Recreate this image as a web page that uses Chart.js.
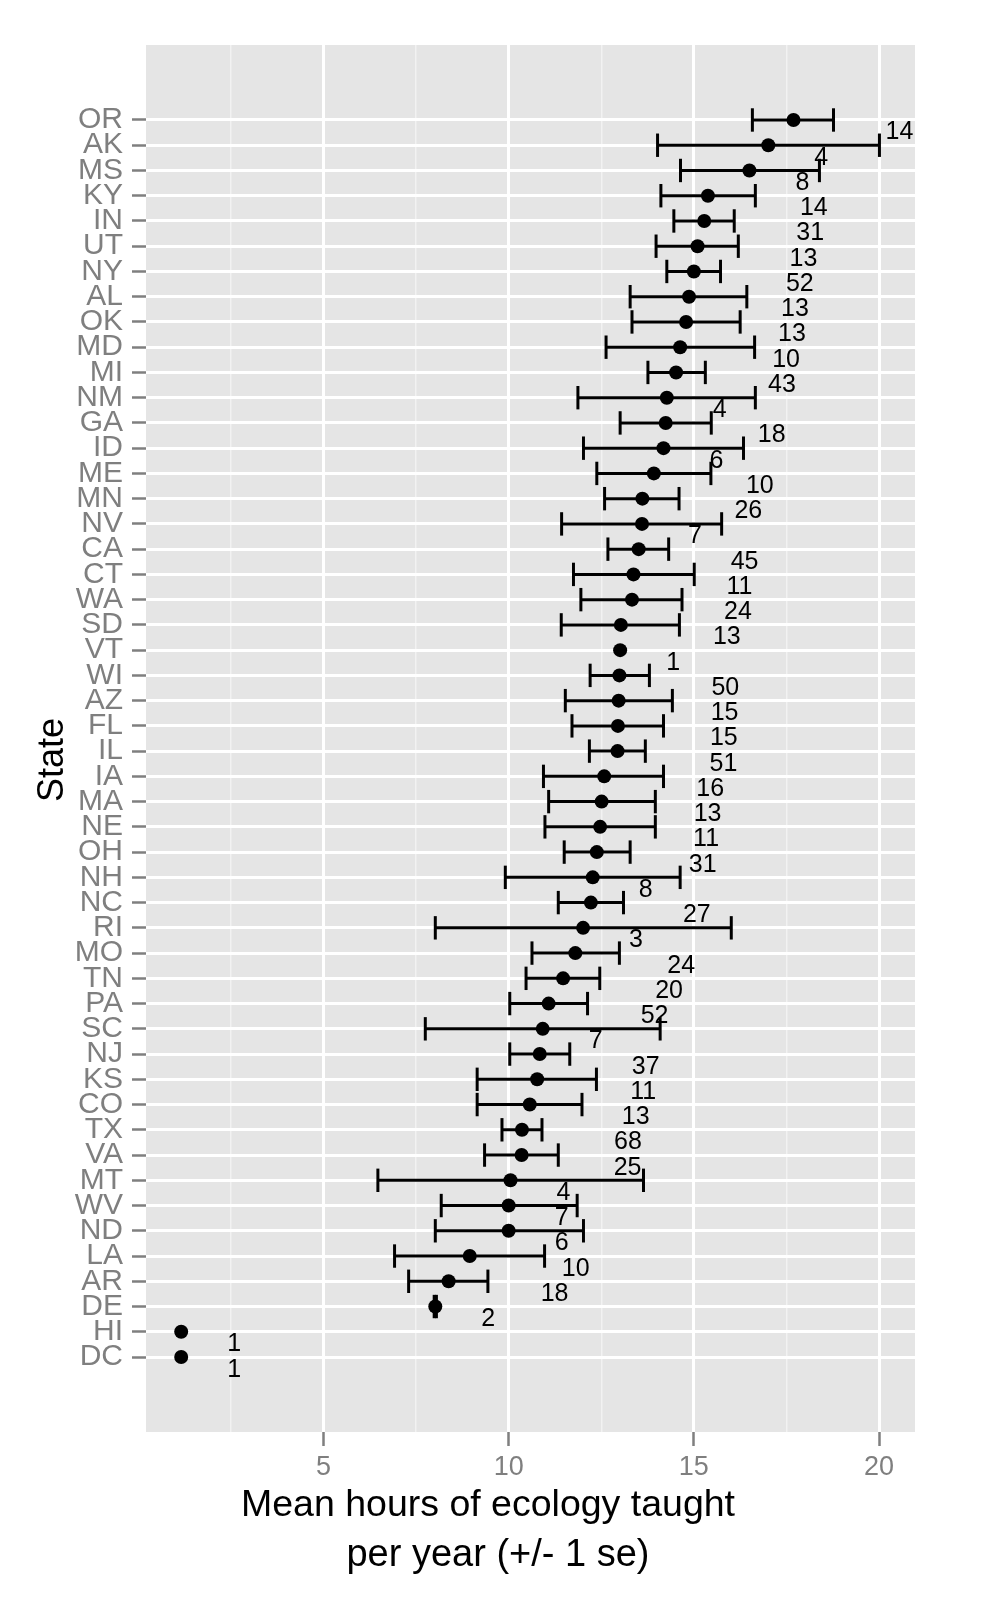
<!DOCTYPE html>
<html><head><meta charset="utf-8">
<script src="https://cdn.jsdelivr.net/npm/chart.js@4.4.0/dist/chart.umd.min.js"></script>
<style>html,body{margin:0;padding:0;background:#fff;}canvas{display:block;}</style>
</head><body>
<canvas id="c" width="983" height="1600"></canvas>
<script>
const states = ['OR','AK','MS','KY','IN','UT','NY','AL','OK','MD','MI','NM','GA','ID','ME','MN','NV','CA','CT','WA','SD','VT','WI','AZ','FL','IL','IA','MA','NE','OH','NH','NC','RI','MO','TN','PA','SC','NJ','KS','CO','TX','VA','MT','WV','ND','LA','AR','DE','HI','DC'];
const means = [17.69,17.01,16.50,15.38,15.28,15.10,15.00,14.87,14.79,14.63,14.52,14.27,14.24,14.18,13.92,13.61,13.60,13.51,13.37,13.33,13.03,13.01,12.99,12.97,12.95,12.94,12.58,12.51,12.47,12.38,12.27,12.22,12.01,11.80,11.47,11.08,10.92,10.84,10.77,10.57,10.36,10.35,10.05,10.00,10.00,8.95,8.38,8.02,1.16,1.16];
const lowerSE = [16.58,14.02,14.64,14.11,14.46,13.98,14.27,13.28,13.33,12.63,13.76,11.87,13.01,12.02,12.38,12.59,11.43,12.68,11.75,11.95,11.42,null,12.20,11.53,11.71,12.18,10.94,11.08,10.98,11.50,9.91,11.34,8.02,10.63,10.47,10.03,7.75,10.03,9.15,9.15,9.82,9.35,6.47,8.18,8.02,6.92,7.30,7.99,null,null];
const upperSE = [18.77,20.01,18.39,16.66,16.09,16.20,15.72,16.43,16.25,16.64,15.31,16.66,15.47,16.34,15.46,14.60,15.75,14.32,15.01,14.68,14.61,null,13.80,14.42,14.18,13.69,14.18,13.96,13.96,13.28,14.63,13.10,16.01,12.99,12.46,12.13,14.09,11.65,12.37,11.98,10.90,11.34,13.64,11.85,12.02,10.97,9.44,8.05,null,null];
const counts = [14,4,8,14,31,13,52,13,13,10,43,4,18,6,10,26,7,45,11,24,13,1,50,15,15,51,16,13,11,31,8,27,3,24,20,52,7,37,11,13,68,25,4,7,6,10,18,2,1,1];
const xMajorTicks = [5,10,15,20];
const xMinorTicks = [2.5,7.5,12.5,17.5];
const xTitleLines = ['Mean hours of ecology taught','per year (+/- 1 se)'];
const yTitle = 'State';

const FONT = "'Liberation Sans', Arial, Helvetica, sans-serif";
const LABEL_STEP = 1.43;   // label offset per digit (data units)
const LABEL_DY = 0.5;      // label offset below row (rows)

const barData = [];
const capData = [];
states.forEach((s, i) => {
  if (lowerSE[i] != null && upperSE[i] != null) {
    barData.push({x: lowerSE[i], y: i}, {x: upperSE[i], y: i}, {x: null, y: null});
    capData.push({x: lowerSE[i], y: i}, {x: upperSE[i], y: i});
  }
});
const pointData = states.map((s, i) => ({x: means[i], y: i}));
const labelData = states.map((s, i) => ({x: means[i] + LABEL_STEP * String(counts[i]).length, y: i + LABEL_DY}));

const panelBg = {
  id: 'panelBg',
  beforeDraw(chart) {
    const {ctx, chartArea: a} = chart;
    ctx.save();
    ctx.fillStyle = '#E5E5E5';
    ctx.fillRect(a.left, a.top, a.right - a.left, a.bottom - a.top);
    ctx.restore();
  }
};
const countLabels = {
  id: 'countLabels',
  afterDatasetsDraw(chart) {
    const meta = chart.getDatasetMeta(3);
    const ctx = chart.ctx;
    ctx.save();
    ctx.font = '25px ' + FONT;
    ctx.fillStyle = '#000';
    ctx.textAlign = 'center';
    ctx.textBaseline = 'middle';
    meta.data.forEach((el, i) => ctx.fillText(String(counts[i]), el.x, el.y));
    ctx.restore();
  }
};
const titles = {
  id: 'titles',
  afterDraw(chart) {
    const ctx = chart.ctx;
    ctx.save();
    ctx.fillStyle = '#000';
    ctx.textAlign = 'center';
    ctx.textBaseline = 'alphabetic';
    ctx.font = '37.5px ' + FONT;
    ctx.fillText(xTitleLines[0], 488, 1516);
    ctx.font = '38px ' + FONT;
    ctx.fillText(xTitleLines[1], 498, 1566);
    ctx.font = '36px ' + FONT;
    ctx.translate(63, 760);
    ctx.rotate(-Math.PI / 2);
    ctx.fillText(yTitle, 0, 0);
    ctx.restore();
  }
};

new Chart(document.getElementById('c'), {
  data: {
    datasets: [
      {type: 'line', data: barData, borderColor: '#000', borderWidth: 3, pointRadius: 0, spanGaps: false, fill: false, order: 4},
      {type: 'scatter', data: capData, pointStyle: 'line', rotation: 90, pointRadius: 11.7, borderColor: '#000', borderWidth: 3, order: 3},
      {type: 'scatter', data: pointData, pointRadius: 7, backgroundColor: '#000', borderWidth: 0, order: 2},
      {type: 'scatter', data: labelData, pointRadius: 0, borderWidth: 0, order: 1}
    ]
  },
  options: {
    responsive: false,
    animation: false,
    devicePixelRatio: 1,
    layout: {padding: {top: 45, right: 68, left: 0, bottom: 0}},
    plugins: {legend: {display: false}, tooltip: {enabled: false}},
    scales: {
      x: {
        type: 'linear', position: 'bottom', min: 0.21, max: 20.97,
        afterBuildTicks(scale) {
          scale.ticks = xMinorTicks.concat(xMajorTicks).sort((a, b) => a - b).map(v => ({value: v}));
        },
        afterFit(scale) { scale.height = 168; },
        border: {display: false},
        grid: {
          color: c => (xMajorTicks.includes(c.tick.value) ? '#FFFFFF' : '#F2F2F2'),
          lineWidth: c => (xMajorTicks.includes(c.tick.value) ? 3 : 1.5),
          tickColor: c => (xMajorTicks.includes(c.tick.value) ? '#7F7F7F' : 'rgba(0,0,0,0)'),
          tickLength: 14, tickWidth: 2.5, drawOnChartArea: true
        },
        ticks: {
          autoSkip: false, maxRotation: 0, padding: 5, color: '#7F7F7F',
          font: {family: FONT, size: 27},
          callback: v => (xMajorTicks.includes(v) ? String(v) : '')
        }
      },
      y: {
        type: 'linear', position: 'left', reverse: true, min: -2.97, max: 51.97,
        afterBuildTicks(scale) { scale.ticks = states.map((s, i) => ({value: i})); },
        afterFit(scale) { scale.width = 146; },
        border: {display: false},
        grid: {color: '#FFFFFF', lineWidth: 3, tickColor: '#7F7F7F', tickLength: 14, tickWidth: 2.5},
        ticks: {
          autoSkip: false, padding: 9, color: '#7F7F7F',
          font: {family: FONT, size: 30},
          callback: v => states[v]
        }
      }
    }
  },
  plugins: [panelBg, countLabels, titles]
});
</script>
</body></html>
